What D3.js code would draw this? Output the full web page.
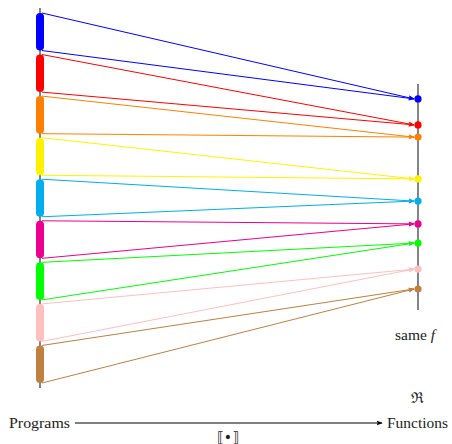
<!DOCTYPE html>
<html><head><meta charset="utf-8">
<script src="https://cdn.jsdelivr.net/npm/d3@7"></script>
<style>body{margin:0;background:#fff}svg{display:block}</style>
</head><body>
<script>
// Program classes (left), each maps to one function value (right)
const classes = ["c0","c1","c2","c3","c4","c5","c6","c7","c8"];
const colors = ["#0000ff","#ff0000","#ff8000","#fff200","#00aeef","#ec008c","#00ff00","#ffbfbf","#bf8040"];
// function values on the right axis (0 = top, 100 = bottom of axis)
const funcValues = [6.6, 18.1, 23.5, 42.0, 51.8, 61.9, 70.4, 81.9, 90.7];
const labels = {programs:"Programs", functions:"Functions", sem:"\u27E6\u2022\u27E7", same:"same ", f:"f", R:"\u211C"};

const W=452,H=444;
const svg=d3.select("body").append("svg").attr("width",W).attr("height",H);
const defs=svg.append("defs");

const xL=40, xR=418;
const yL=d3.scaleLinear().domain([0,classes.length]).range([13,387]);
const yR=d3.scaleLinear().domain([0,100]).range([84,310]);

colors.forEach((c,i)=>{
  defs.append("marker").attr("id","ah"+i).attr("viewBox","0 0 10 10")
    .attr("refX",9).attr("refY",5).attr("markerWidth",6).attr("markerHeight",6)
    .attr("markerUnits","userSpaceOnUse").attr("orient","auto")
    .append("path").attr("d","M0,1 L10,5 L0,9 L2,5 Z").attr("fill",c);
});
defs.append("marker").attr("id","ahk").attr("viewBox","0 0 10 10")
  .attr("refX",9).attr("refY",5).attr("markerWidth",6).attr("markerHeight",6)
  .attr("markerUnits","userSpaceOnUse").attr("orient","auto")
  .append("path").attr("d","M0,1 L10,5 L0,9 L2,5 Z").attr("fill","#000");

// axes (gray)
svg.append("line").attr("x1",xL).attr("x2",xL).attr("y1",yL(0)-5).attr("y2",yL(classes.length)+1)
  .attr("stroke","#666").attr("stroke-width",1.6);
svg.append("line").attr("x1",xR).attr("x2",xR).attr("y1",yR(0)).attr("y2",yR(100))
  .attr("stroke","#666").attr("stroke-width",1.6);

// connectors
classes.forEach((c,i)=>{
  const top=yL(i), bot=yL(i+1)-4, ty=yR(funcValues[i]);
  [top,bot].forEach(y=>{
    svg.append("line").attr("x1",xL+2).attr("y1",y).attr("x2",xR-4).attr("y2",ty)
      .attr("stroke",colors[i]).attr("stroke-width",1)
      .attr("marker-end","url(#ah"+i+")");
  });
});

// program class bars
svg.selectAll("rect.cls").data(classes).join("rect").attr("class","cls")
  .attr("x",xL-4).attr("width",8)
  .attr("y",(d,i)=>yL(i)).attr("height",(d,i)=>yL(i+1)-4-yL(i))
  .attr("rx",4).attr("ry",4).attr("fill",(d,i)=>colors[i]);

// function dots
svg.selectAll("circle.fn").data(funcValues).join("circle").attr("class","fn")
  .attr("cx",xR).attr("cy",d=>yR(d)).attr("r",3.6).attr("fill",(d,i)=>colors[i]);

const font="'Liberation Serif','DejaVu Serif',serif";
const t=svg.append("text").attr("x",395).attr("y",340).attr("font-family",font).attr("font-size",15.5).attr("fill","#222");
t.append("tspan").text(labels.same);
t.append("tspan").attr("font-style","italic").text(labels.f);
svg.append("text").attr("x",417).attr("y",403).attr("text-anchor","middle").attr("font-family","'DejaVu Serif',serif").attr("font-size",15).attr("fill","#222").text(labels.R);

svg.append("text").attr("x",9).attr("y",428).attr("font-family",font).attr("font-size",15).attr("fill","#222")
  .attr("textLength",61).attr("lengthAdjust","spacingAndGlyphs").text(labels.programs);
svg.append("text").attr("x",387).attr("y",428).attr("font-family",font).attr("font-size",15).attr("fill","#222")
  .attr("textLength",61).attr("lengthAdjust","spacingAndGlyphs").text(labels.functions);
svg.append("line").attr("x1",75).attr("x2",382).attr("y1",423).attr("y2",423)
  .attr("stroke","#000").attr("stroke-width",1).attr("marker-end","url(#ahk)");
svg.append("text").attr("x",228).attr("y",442).attr("text-anchor","middle").attr("font-family","'DejaVu Sans',sans-serif").attr("font-size",14).attr("fill","#222").text(labels.sem);
</script>
</body></html>
